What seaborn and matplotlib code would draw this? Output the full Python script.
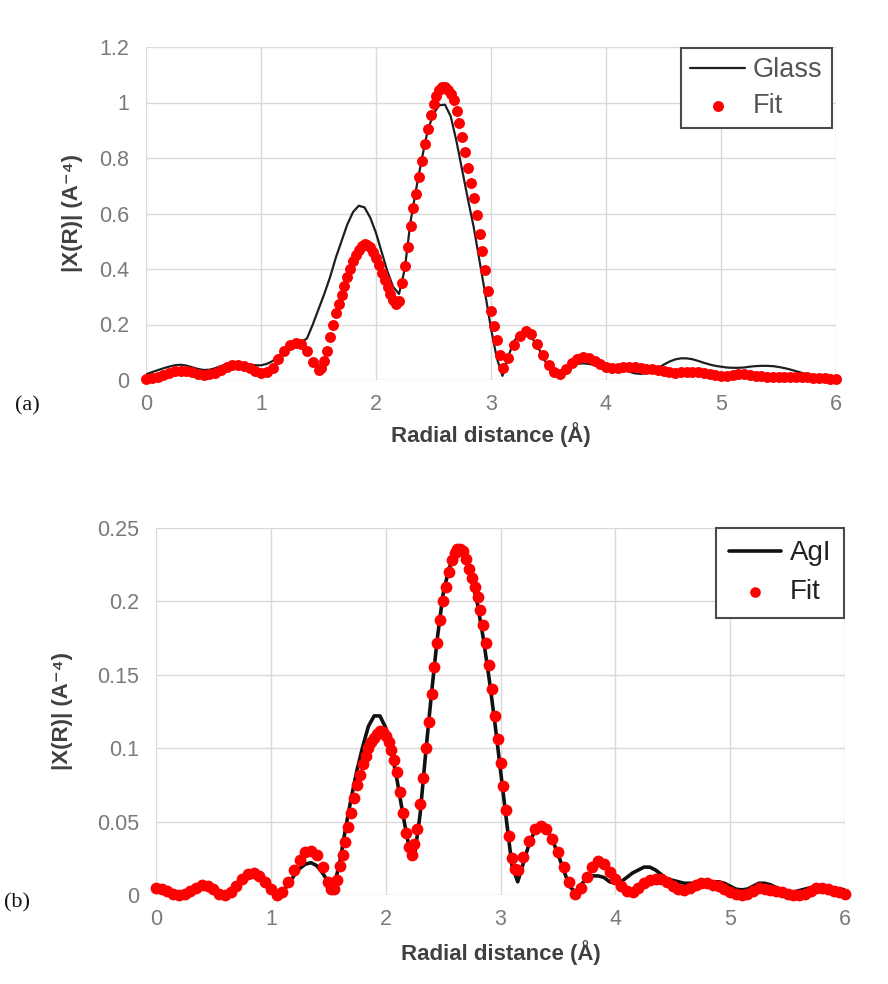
import matplotlib
matplotlib.use("Agg")
import matplotlib.pyplot as plt
import seaborn as sns

# ---------------- data ----------------
R_LINE = [0.00, 0.05, 0.10, 0.15, 0.20, 0.25, 0.30, 0.35, 0.40, 0.45,
          0.50, 0.55, 0.60, 0.65, 0.70, 0.75, 0.80, 0.85, 0.90, 0.95,
          1.00, 1.05, 1.10, 1.15, 1.20, 1.25, 1.30, 1.35, 1.40, 1.45,
          1.50, 1.55, 1.60, 1.65, 1.70, 1.75, 1.80, 1.85, 1.90, 1.95,
          2.00, 2.05, 2.10, 2.15, 2.20, 2.25, 2.30, 2.35, 2.40, 2.45,
          2.50, 2.55, 2.60, 2.65, 2.70, 2.75, 2.80, 2.85, 2.90, 2.95,
          3.00, 3.05, 3.10, 3.15, 3.20, 3.25, 3.30, 3.35, 3.40, 3.45,
          3.50, 3.55, 3.60, 3.65, 3.70, 3.75, 3.80, 3.85, 3.90, 3.95,
          4.00, 4.05, 4.10, 4.15, 4.20, 4.25, 4.30, 4.35, 4.40, 4.45,
          4.50, 4.55, 4.60, 4.65, 4.70, 4.75, 4.80, 4.85, 4.90, 4.95,
          5.00, 5.05, 5.10, 5.15, 5.20, 5.25, 5.30, 5.35, 5.40, 5.45,
          5.50, 5.55, 5.60, 5.65, 5.70, 5.75, 5.80, 5.85, 5.90, 5.95,
          6.00]

GLASS = [0.020, 0.028, 0.035, 0.042, 0.048, 0.053, 0.055, 0.052, 0.046, 0.040,
         0.036, 0.037, 0.042, 0.050, 0.057, 0.061, 0.061, 0.058, 0.055, 0.053,
         0.053, 0.058, 0.068, 0.085, 0.105, 0.122, 0.132, 0.136, 0.150, 0.200,
         0.255, 0.310, 0.370, 0.440, 0.500, 0.560, 0.605, 0.628, 0.622, 0.585,
         0.530, 0.460, 0.390, 0.335, 0.310, 0.400, 0.570, 0.690, 0.800, 0.900,
         0.960, 0.990, 0.992, 0.950, 0.860, 0.755, 0.650, 0.550, 0.430, 0.310,
         0.185, 0.080, 0.015, 0.085, 0.140, 0.165, 0.170, 0.155, 0.125, 0.085,
         0.045, 0.015, 0.012, 0.030, 0.048, 0.058, 0.060, 0.058, 0.055, 0.050,
         0.045, 0.042, 0.040, 0.036, 0.030, 0.024, 0.022, 0.025, 0.032, 0.042,
         0.055, 0.066, 0.074, 0.078, 0.078, 0.075, 0.069, 0.062, 0.056, 0.051,
         0.048, 0.045, 0.044, 0.044, 0.045, 0.048, 0.050, 0.051, 0.051, 0.050,
         0.047, 0.043, 0.038, 0.032, 0.026, 0.021, 0.016, 0.012, 0.010, 0.008,
         0.006]

AGI = [0.005, 0.004, 0.003, 0.002, 0.001, 0.002, 0.004, 0.006, 0.007, 0.007,
       0.005, 0.002, 0.001, 0.003, 0.007, 0.011, 0.014, 0.015, 0.014, 0.011,
       0.006, 0.002, 0.002, 0.007, 0.013, 0.018, 0.021, 0.022, 0.020, 0.015,
       0.009, 0.006, 0.022, 0.045, 0.066, 0.085, 0.101, 0.115, 0.122, 0.122,
       0.114, 0.098, 0.078, 0.055, 0.034, 0.026, 0.055, 0.098, 0.138, 0.175,
       0.205, 0.222, 0.232, 0.233, 0.228, 0.215, 0.198, 0.175, 0.148, 0.118,
       0.085, 0.052, 0.020, 0.009, 0.022, 0.035, 0.044, 0.047, 0.045, 0.038,
       0.028, 0.017, 0.006, 0.002, 0.007, 0.011, 0.013, 0.013, 0.012, 0.009,
       0.008, 0.009, 0.012, 0.015, 0.017, 0.019, 0.019, 0.017, 0.014, 0.011,
       0.010, 0.009, 0.008, 0.008, 0.008, 0.009, 0.009, 0.009, 0.009, 0.008,
       0.006, 0.004, 0.0035, 0.004, 0.006, 0.008, 0.008, 0.007, 0.005, 0.003,
       0.002, 0.002, 0.003, 0.004, 0.005, 0.0055, 0.0055, 0.005, 0.0045, 0.004,
       0.0035]

R_FIT_A = [0.00, 0.05, 0.10, 0.15, 0.20, 0.25, 0.30, 0.35, 0.40, 0.45,
           0.50, 0.55, 0.60, 0.65, 0.70, 0.75, 0.80, 0.85, 0.90, 0.95,
           1.00, 1.05, 1.10, 1.15, 1.20, 1.25, 1.30, 1.35, 1.40, 1.45,
           1.500, 1.525, 1.550, 1.575, 1.600, 1.625, 1.650, 1.675, 1.700, 1.725,
           1.750, 1.775, 1.800, 1.825, 1.850, 1.875, 1.900, 1.925, 1.950, 1.975,
           2.000, 2.025, 2.050, 2.075, 2.100, 2.125, 2.150, 2.175, 2.200, 2.225,
           2.250, 2.275, 2.300, 2.325, 2.350, 2.375, 2.400, 2.425, 2.450, 2.475,
           2.500, 2.525, 2.550, 2.575, 2.600, 2.625, 2.650, 2.675, 2.700, 2.725,
           2.750, 2.775, 2.800, 2.825, 2.850, 2.875, 2.900, 2.925, 2.950, 2.975,
           3.000, 3.025, 3.050, 3.075, 3.100,
           3.15, 3.20, 3.25, 3.30, 3.35, 3.40, 3.45, 3.50, 3.55, 3.60,
           3.65, 3.70, 3.75, 3.80, 3.85, 3.90, 3.95, 4.00, 4.05, 4.10,
           4.15, 4.20, 4.25, 4.30, 4.35, 4.40, 4.45, 4.50, 4.55, 4.60,
           4.65, 4.70, 4.75, 4.80, 4.85, 4.90, 4.95, 5.00, 5.05, 5.10,
           5.15, 5.20, 5.25, 5.30, 5.35, 5.40, 5.45, 5.50, 5.55, 5.60,
           5.65, 5.70, 5.75, 5.80, 5.85, 5.90, 5.95, 6.00]

FIT_A = [0.004, 0.008, 0.012, 0.018, 0.025, 0.031, 0.034, 0.033, 0.029, 0.023,
         0.019, 0.020, 0.026, 0.036, 0.046, 0.053, 0.055, 0.051, 0.043, 0.033,
         0.026, 0.028, 0.045, 0.075, 0.105, 0.125, 0.135, 0.128, 0.105, 0.065,
         0.036, 0.045, 0.068, 0.105, 0.155, 0.200, 0.240, 0.275, 0.305, 0.338,
         0.370, 0.400, 0.428, 0.452, 0.470, 0.484, 0.490, 0.487, 0.478, 0.462,
         0.440, 0.413, 0.385, 0.360, 0.335, 0.310, 0.290, 0.275, 0.285, 0.350,
         0.410, 0.480, 0.555, 0.620, 0.670, 0.730, 0.790, 0.850, 0.905, 0.955,
         0.995, 1.025, 1.045, 1.055, 1.055, 1.045, 1.030, 1.008, 0.970, 0.925,
         0.875, 0.820, 0.765, 0.710, 0.655, 0.595, 0.525, 0.465, 0.395, 0.320,
         0.250, 0.195, 0.145, 0.090, 0.045,
         0.080, 0.125, 0.160, 0.175, 0.165, 0.130, 0.090, 0.055, 0.028, 0.020,
         0.040, 0.062, 0.076, 0.082, 0.078, 0.068, 0.058, 0.048, 0.042, 0.042,
         0.046, 0.048, 0.047, 0.044, 0.041, 0.040, 0.036, 0.031, 0.028, 0.027,
         0.028, 0.030, 0.030, 0.028, 0.025, 0.022, 0.019, 0.016, 0.015, 0.017,
         0.020, 0.020, 0.018, 0.015, 0.013, 0.012, 0.011, 0.010, 0.010, 0.011,
         0.012, 0.011, 0.010, 0.008, 0.007, 0.006, 0.005, 0.005]

R_FIT_B = [0.00, 0.05, 0.10, 0.15, 0.20, 0.25, 0.30, 0.35, 0.40, 0.45,
           0.50, 0.55, 0.60, 0.65, 0.70, 0.75, 0.80, 0.85, 0.90, 0.95,
           1.00, 1.05, 1.10, 1.15, 1.20, 1.25, 1.30, 1.35, 1.40, 1.45,
           1.50,
           1.525, 1.550, 1.575, 1.600, 1.625, 1.650, 1.675, 1.700, 1.725, 1.750,
           1.775, 1.800, 1.825, 1.850, 1.875, 1.900, 1.925, 1.950, 1.975, 2.000,
           2.025, 2.050, 2.075, 2.100, 2.125, 2.150, 2.175, 2.200, 2.225, 2.250,
           2.275, 2.300, 2.325, 2.350, 2.375, 2.400, 2.425, 2.450, 2.475, 2.500,
           2.525, 2.550, 2.575, 2.600, 2.625, 2.650, 2.675, 2.700, 2.725, 2.750,
           2.775, 2.800, 2.825, 2.850, 2.875, 2.900, 2.925, 2.950, 2.975, 3.000,
           3.025, 3.050, 3.075, 3.100, 3.125, 3.150,
           3.20, 3.25, 3.30, 3.35, 3.40, 3.45, 3.50, 3.55, 3.60, 3.65,
           3.70, 3.75, 3.80, 3.85, 3.90, 3.95, 4.00, 4.05, 4.10, 4.15,
           4.20, 4.25, 4.30, 4.35, 4.40, 4.45, 4.50, 4.55, 4.60, 4.65,
           4.70, 4.75, 4.80, 4.85, 4.90, 4.95, 5.00, 5.05, 5.10, 5.15,
           5.20, 5.25, 5.30, 5.35, 5.40, 5.45, 5.50, 5.55, 5.60, 5.65,
           5.70, 5.75, 5.80, 5.85, 5.90, 5.95, 6.00]

FIT_B = [0.005, 0.004, 0.003, 0.001, 0.000, 0.001, 0.003, 0.005, 0.007, 0.006,
         0.004, 0.001, 0.000, 0.002, 0.006, 0.011, 0.014, 0.015, 0.013, 0.009,
         0.004, 0.000, 0.002, 0.009, 0.017, 0.024, 0.029, 0.030, 0.027, 0.019,
         0.009,
         0.004, 0.004, 0.010, 0.020, 0.027, 0.036, 0.046, 0.056, 0.066, 0.075,
         0.082, 0.089, 0.095, 0.100, 0.104, 0.107, 0.110, 0.112, 0.111, 0.108,
         0.104, 0.099, 0.092, 0.084, 0.070, 0.056, 0.042, 0.033, 0.027, 0.035,
         0.045, 0.062, 0.080, 0.100, 0.118, 0.137, 0.155, 0.172, 0.187, 0.200,
         0.210, 0.220, 0.228, 0.233, 0.236, 0.236, 0.234, 0.229, 0.222, 0.216,
         0.210, 0.203, 0.194, 0.184, 0.172, 0.157, 0.140, 0.122, 0.106, 0.090,
         0.074, 0.058, 0.040, 0.025, 0.018, 0.017,
         0.026, 0.037, 0.045, 0.047, 0.045, 0.038, 0.029, 0.019, 0.009, 0.001,
         0.005, 0.012, 0.019, 0.023, 0.021, 0.016, 0.011, 0.006, 0.003, 0.002,
         0.005, 0.008, 0.010, 0.011, 0.011, 0.009, 0.006, 0.004, 0.0035, 0.005,
         0.007, 0.008, 0.008, 0.007, 0.006, 0.004, 0.002, 0.001, 0.000, 0.001,
         0.003, 0.0045, 0.004, 0.0035, 0.003, 0.002, 0.001, 0.000, 0.000, 0.001,
         0.003, 0.0045, 0.0045, 0.004, 0.003, 0.002, 0.001]

X_TICKS = [0, 1, 2, 3, 4, 5, 6]
Y_TICKS_A = [0, 0.2, 0.4, 0.6, 0.8, 1.0, 1.2]
Y_TICKLABELS_A = ["0", "0.2", "0.4", "0.6", "0.8", "1", "1.2"]
Y_TICKS_B = [0, 0.05, 0.1, 0.15, 0.2, 0.25]
Y_TICKLABELS_B = ["0", "0.05", "0.1", "0.15", "0.2", "0.25"]

XLABEL = "Radial distance (\u00c5)"
YLABEL = "|X(R)| (A\u207b\u2074)"

# ---------------- style ----------------
sns.set_theme(style="whitegrid")
plt.rcParams["font.family"] = ["Liberation Sans", "DejaVu Sans"]

GRID = "#d9d9d9"
TICKC = "#7a7a7a"
LABELC = "#404040"
RED = "#ff0000"

fig = plt.figure(figsize=(8.88, 9.84), dpi=100)
fig.patch.set_facecolor("white")

ax1 = fig.add_axes([146 / 888, 1 - 380 / 984, 690 / 888, 333 / 984])
ax2 = fig.add_axes([156 / 888, 1 - 895 / 984, 689 / 888, 367 / 984])


def style_axes(ax, yticks, yticklabels, ylim, ylab_x, xlab_y):
    ax.set_facecolor("white")
    ax.set_xlim(0, 6)
    ax.set_ylim(*ylim)
    ax.set_xticks(X_TICKS)
    ax.set_xticklabels([str(t) for t in X_TICKS])
    ax.set_yticks(yticks)
    ax.set_yticklabels(yticklabels)
    ax.grid(True, color=GRID, linewidth=1.0)
    for s in ax.spines.values():
        s.set_visible(False)
    ax.tick_params(axis="both", length=0, labelsize=15.5, labelcolor=TICKC)
    ax.tick_params(axis="y", pad=12)
    ax.tick_params(axis="x", pad=10)
    ax.set_xlabel(XLABEL, fontsize=16, fontweight="bold", color=LABELC)
    ax.set_ylabel(YLABEL, fontsize=16, fontweight="bold", color=LABELC)
    ax.xaxis.set_label_coords(0.5, xlab_y)
    ax.xaxis.label.set_va("center")
    ax.yaxis.set_label_coords(ylab_x, 0.5)
    ax.yaxis.label.set_va("center")
    ax.set_axisbelow(True)


# top panel
sns.lineplot(x=R_LINE, y=GLASS, ax=ax1, color="#1f1f1f", linewidth=1.6,
             label="Glass", sort=False, estimator=None, zorder=2)
sns.scatterplot(x=R_FIT_A, y=FIT_A, ax=ax1, color=RED, s=62, linewidth=0,
                label="Fit", clip_on=False, zorder=3)
style_axes(ax1, Y_TICKS_A, Y_TICKLABELS_A, (0, 1.2), -0.106, -0.165)
leg1 = ax1.legend(loc="upper right", bbox_to_anchor=(0.994, 0.997),
                  borderaxespad=0, fontsize=19.5, frameon=True, fancybox=False,
                  framealpha=1, edgecolor="#4a4a4a", handlelength=2.0,
                  handletextpad=0.3, labelspacing=0.35, borderpad=0.35,
                  markerscale=1.0)
leg1.get_frame().set_linewidth(1.5)
for t in leg1.get_texts():
    t.set_color("#555555")

# bottom panel
sns.lineplot(x=R_LINE, y=AGI, ax=ax2, color="#111111", linewidth=2.6,
             label="AgI", sort=False, estimator=None, zorder=2)
sns.scatterplot(x=R_FIT_B, y=FIT_B, ax=ax2, color=RED, s=72, linewidth=0,
                label="Fit", clip_on=False, zorder=3)
style_axes(ax2, Y_TICKS_B, Y_TICKLABELS_B, (0, 0.25), -0.136, -0.158)
leg2 = ax2.legend(loc="upper right", bbox_to_anchor=(0.998, 1.0),
                  borderaxespad=0, fontsize=20, frameon=True, fancybox=False,
                  framealpha=1, edgecolor="#4a4a4a", handlelength=1.9,
                  handletextpad=0.3, labelspacing=0.45, borderpad=0.45,
                  markerscale=0.9)
leg2.get_frame().set_linewidth(1.5)
for t in leg2.get_texts():
    t.set_color("#222222")

# panel labels
fig.text(27 / 888, 1 - 406 / 984, "(a)", family=["Liberation Serif", "DejaVu Serif"],
         fontsize=16, ha="center", va="center", color="#111111")
fig.text(17 / 888, 1 - 903 / 984, "(b)", family=["Liberation Serif", "DejaVu Serif"],
         fontsize=16, ha="center", va="center", color="#111111")

fig.savefig("out.png", dpi=100, facecolor="white")
